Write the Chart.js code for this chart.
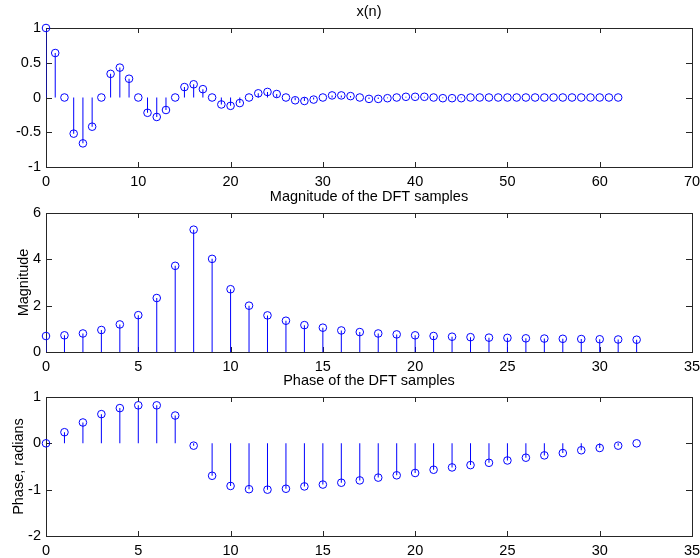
<!DOCTYPE html>
<html>
<head>
<meta charset="utf-8">
<script src="https://cdn.jsdelivr.net/npm/chart.js@4.4.1/dist/chart.umd.min.js"></script>
<style>
    body { margin: 0; background: #fff; width: 700px; height: 558px; overflow: hidden; position: relative; }
    canvas { position: absolute; left: 0; }
</style>
</head>
<body>
<canvas id="xnChart" width="700" height="190" style="top:0px"></canvas>
<canvas id="magChart" width="700" height="190" style="top:185px"></canvas>
<canvas id="phaseChart" width="700" height="190" style="top:369px"></canvas>
<script>
// Sample indices
const nSamples = [0, 1, 2, 3, 4, 5, 6, 7, 8, 9, 10, 11, 12, 13, 14, 15, 16, 17, 18, 19, 20,
    21, 22, 23, 24, 25, 26, 27, 28, 29, 30, 31, 32, 33, 34, 35, 36, 37, 38, 39, 40, 41,
    42, 43, 44, 45, 46, 47, 48, 49, 50, 51, 52, 53, 54, 55, 56, 57, 58, 59, 60, 61, 62];
const kBins = [0, 1, 2, 3, 4, 5, 6, 7, 8, 9, 10, 11, 12, 13, 14, 15, 16,
    17, 18, 19, 20, 21, 22, 23, 24, 25, 26, 27, 28, 29, 30, 31, 32];

// Signal x(n)
const xn = [1.00, 0.64, 0, -0.52, -0.66, -0.42, 0, 0.34, 0.43, 0.27, 0, -0.22, -0.28, -0.18,
    0, 0.15, 0.19, 0.12, 0, -0.10, -0.12, -0.08, 0, 0.06, 0.08, 0.05, 0, -0.04, -0.05, -0.03,
    0, 0.03, 0.03, 0.02, 0, -0.02, -0.02, -0.01, 0, 0.01, 0.01, 0.01, 0, -0.01, -0.01, -0.01,
    0, 0, 0, 0, 0, 0, 0, 0, 0, 0, 0, 0, 0, 0, 0, 0, 0];

// DFT magnitude and phase (radians)
const magnitude = [0.69, 0.72, 0.80, 0.95, 1.19, 1.59, 2.33, 3.72, 5.28, 4.02, 2.71, 2.00,
    1.58, 1.35, 1.16, 1.05, 0.93, 0.86, 0.80, 0.76, 0.72, 0.69, 0.66, 0.64, 0.62, 0.61,
    0.59, 0.58, 0.57, 0.56, 0.55, 0.54, 0.53];
const phase = [0, 0.24, 0.45, 0.63, 0.76, 0.82, 0.82, 0.60, -0.05, -0.70, -0.92, -0.99,
    -1.00, -0.98, -0.93, -0.89, -0.85, -0.80, -0.74, -0.69, -0.64, -0.57, -0.52, -0.47,
    -0.42, -0.37, -0.31, -0.26, -0.21, -0.15, -0.10, -0.05, 0];

const BLUE = '#0000ff';
const FONT = { family: "'Liberation Sans', Arial, Helvetica, sans-serif", size: 14.5 };

Chart.defaults.font.family = FONT.family;
Chart.defaults.color = '#000';

// Box around the axes with inward ticks on all four sides
const axesBox = {
    id: 'axesBox',
    beforeDatasetsDraw(chart) {
        const { ctx, chartArea: a, scales: { x, y } } = chart;
        ctx.save();
        ctx.strokeStyle = '#262626';
        ctx.lineWidth = 1;
        ctx.strokeRect(a.left + 0.5, a.top + 0.5, a.right - a.left, a.bottom - a.top);
        ctx.beginPath();
        x.ticks.forEach(t => {
            const px = Math.round(x.getPixelForValue(t.value)) + 0.5;
            ctx.moveTo(px, a.bottom);
            ctx.lineTo(px, a.bottom - 5);
            ctx.moveTo(px, a.top);
            ctx.lineTo(px, a.top + 5);
        });
        y.ticks.forEach(t => {
            const py = Math.round(y.getPixelForValue(t.value)) + 0.5;
            ctx.moveTo(a.left, py);
            ctx.lineTo(a.left + 6, py);
            ctx.moveTo(a.right, py);
            ctx.lineTo(a.right - 6, py);
        });
        ctx.stroke();
        ctx.restore();
    }
};

function stemChart(id, cfg) {
    const points = cfg.xs.map((v, i) => ({ x: v, y: cfg.ys[i] }));
    return new Chart(document.getElementById(id), {
        type: 'bar',
        data: {
            datasets: [
                {
                    type: 'line',
                    data: points,
                    showLine: false,
                    pointStyle: 'circle',
                    pointRadius: 3.8,
                    pointBorderWidth: 1,
                    pointBorderColor: BLUE,
                    pointBackgroundColor: 'rgba(0,0,0,0)',
                    clip: false,
                    order: 0
                },
                {
                    type: 'bar',
                    data: points,
                    backgroundColor: BLUE,
                    barThickness: 1,
                    borderWidth: 0,
                    inflateAmount: 0,
                    order: 1
                }
            ]
        },
        options: {
            responsive: false,
            animation: false,
            layout: { padding: 0 },
            plugins: {
                legend: { display: false },
                tooltip: { enabled: false },
                title: {
                    display: true,
                    text: cfg.title,
                    fullSize: false,
                    color: '#000',
                    font: { ...FONT, weight: 'normal' },
                    padding: { top: 3.6, bottom: 7 }
                }
            },
            scales: {
                x: {
                    type: 'linear',
                    min: cfg.xMin,
                    max: cfg.xMax,
                    offset: false,
                    grid: { display: false, drawTicks: false },
                    border: { display: false },
                    ticks: {
                        stepSize: cfg.xStep,
                        padding: 6,
                        maxRotation: 0,
                        autoSkip: false,
                        font: FONT,
                        color: '#000',
                        callback: v => String(v)
                    },
                    afterFit: s => { s.height = 23; s.paddingLeft = 0; s.paddingRight = 8; }
                },
                y: {
                    type: 'linear',
                    min: cfg.yMin,
                    max: cfg.yMax,
                    grid: { display: false, drawTicks: false },
                    border: { display: false },
                    ticks: {
                        stepSize: cfg.yStep,
                        padding: 5,
                        font: FONT,
                        color: '#000',
                        callback: v => String(Math.round(v * 100) / 100 || 0)
                    },
                    title: {
                        display: !!cfg.yLabel,
                        text: cfg.yLabel || '',
                        color: '#000',
                        font: FONT,
                        padding: { top: cfg.yLabelPad || 0, bottom: 0 }
                    },
                    afterFit: s => { s.width = 46; s.paddingTop = 0; s.paddingBottom = 0; }
                }
            }
        },
        plugins: [axesBox]
    });
}

stemChart('xnChart', {
    title: 'x(n)', xs: nSamples, ys: xn,
    xMin: 0, xMax: 70, xStep: 10, yMin: -1, yMax: 1, yStep: 0.5
});

stemChart('magChart', {
    title: 'Magnitude of the DFT samples', xs: kBins, ys: magnitude,
    xMin: 0, xMax: 35, xStep: 5, yMin: 0, yMax: 6, yStep: 2,
    yLabel: 'Magnitude', yLabelPad: 15.5
});

stemChart('phaseChart', {
    title: 'Phase of the DFT samples', xs: kBins, ys: phase,
    xMin: 0, xMax: 35, xStep: 5, yMin: -2, yMax: 1, yStep: 1,
    yLabel: 'Phase, radians', yLabelPad: 10.5
});
</script>
</body>
</html>
